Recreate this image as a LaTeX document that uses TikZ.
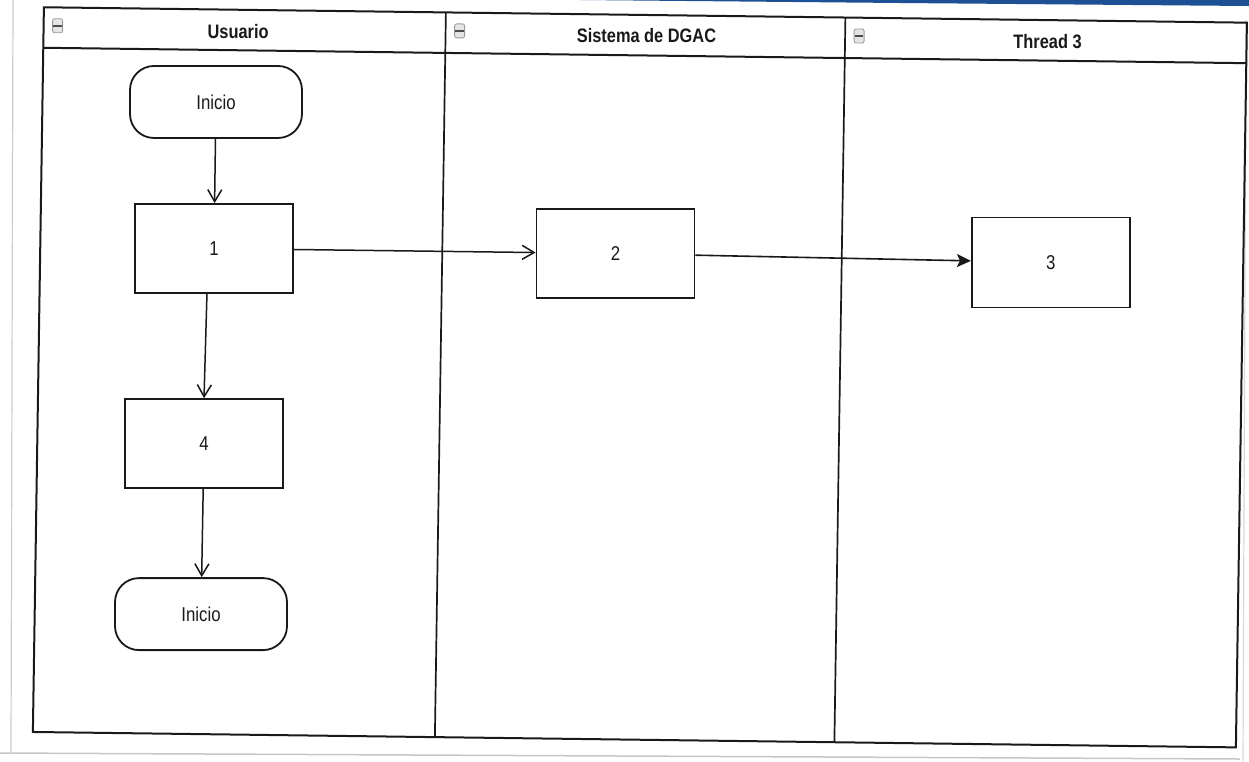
\documentclass[tikz,border=0pt]{standalone}
\usepackage{fontspec}
\setmainfont{Liberation Sans}[FakeStretch=0.84]
\usetikzlibrary{arrows.meta}
\definecolor{scanblue}{RGB}{30,80,150}
\begin{document}
\begin{tikzpicture}[
  x={(1pt,-0.0128pt)}, y={(-0.0152pt,-1pt)},
  lane/.style={line width=2pt, draw=black!90},
  proc/.style={draw=black!90, line width=1.8pt, minimum width=158pt, minimum height=89pt,
               inner sep=0pt, font=\fontsize{20}{24}\selectfont, text=black!90},
  term/.style={proc, rounded corners=24pt, minimum width=172pt, minimum height=72pt},
  hdr/.style={font=\bfseries\fontsize{19.5}{23}\selectfont, text=black!90, inner sep=0pt},
  laneicon/.style={draw=gray!80, fill=gray!20, line width=0.8pt, rounded corners=2pt,
               minimum width=10pt, minimum height=14pt, inner sep=0pt},
  flow/.style={line width=1.5pt, draw=black!90, -{Straight Barb[length=12pt,width=14pt]}},
  flowfill/.style={line width=1.6pt, draw=black!90, -{Stealth[length=14pt,width=13pt,inset=3pt]}}
]
\useasboundingbox (0pt,0pt) rectangle (1249pt,-761pt);
% scan edges
\draw[gray!40, line width=1.2pt] (13pt,0pt) -- (11pt,-752pt);
\draw[gray!45, line width=1.5pt] (0pt,-753pt) -- (1240pt,-759pt);
\draw[gray!30, line width=1.2pt] (1246pt,-20pt) -- (1243pt,-761pt);
\fill[scanblue] (580pt,0pt) -- (1249pt,0pt) -- (1249pt,-6pt) -- (900pt,-3pt) -- cycle;

% swimlane frame
\draw[lane] (44,6.7) -- (1247,6.7) -- (1247,731.4) -- (44,731.4) -- cycle;
\draw[lane] (44,47.2) -- (1247,47.2);
\draw[lane, line width=1.7pt] (446,6.7) -- (446,731.4);
\draw[lane, line width=1.7pt] (845.5,6.7) -- (845.5,731.4);

% lane header icons
\foreach \n/\xx in {i1/58, i2/460, i3/859.5}{
  \node[laneicon] (\n) at (\xx,25) {};
  \fill[black!70] ([xshift=1.2pt,yshift=1.2pt]\n.west) rectangle ([xshift=-1.2pt,yshift=-1.2pt]\n.east);
}

% headers
\node[hdr] (h1) at (238.5,28) {Usuario};
\node[hdr] (h2) at (646.9,27.5) {Sistema de DGAC};
\node[hdr] (h3) at (1048,28) {Thread 3};

% nodes
\node[term] (s1) at (217.5,99.2) {Inicio};
\node[proc] (b1) at (217.7,245.7) {1};
\node[proc] (b2) at (619.2,245.6) {2};
\node[proc, minimum height=90pt] (b3) at (1054.6,249) {3};
\node[proc] (b4) at (210.7,440.9) {4};
\node[term] (e1) at (210.3,611.4) {Inicio};

% connectors
\draw[flow] (s1) -- (b1);
\draw[flow] (b1) -- (b2);
\draw[flowfill] (b2) -- (b3);
\draw[flow] ([xshift=-7pt]b1.south) -- (b4.north);
\draw[flow] (b4) -- (e1);
\end{tikzpicture}
\end{document}
